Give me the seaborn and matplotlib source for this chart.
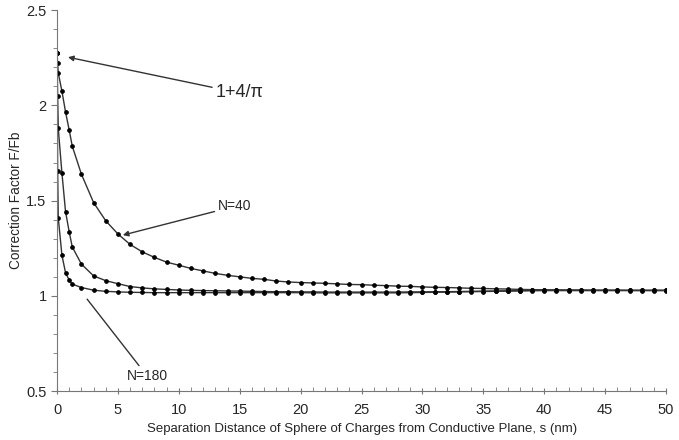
import numpy as np
import pandas as pd
import matplotlib
matplotlib.use("Agg")
import matplotlib.pyplot as plt
from matplotlib.ticker import MultipleLocator
import seaborn as sns

# -----------------------------
# Data
# -----------------------------
s_nm = [0, 0.05, 0.1, 0.4, 0.7, 1.0, 1.25,
        2, 3, 4, 5, 6, 7, 8, 9, 10, 11, 12, 13, 14, 15, 16, 17, 18, 19, 20,
        21, 22, 23, 24, 25, 26, 27, 28, 29, 30, 31, 32, 33, 34, 35, 36, 37, 38,
        39, 40, 41, 42, 43, 44, 45, 46, 47, 48, 49, 50]

f_n40 = [2.273, 2.22, 2.17, 2.075, 1.965, 1.87, 1.786,
         1.639, 1.49, 1.394, 1.325, 1.27, 1.231, 1.202, 1.177, 1.161, 1.144,
         1.131, 1.118, 1.108, 1.100, 1.092, 1.087, 1.078, 1.073, 1.070,
         1.068, 1.066, 1.063, 1.060, 1.059, 1.056, 1.054, 1.051, 1.050, 1.047,
         1.045, 1.044, 1.042, 1.040, 1.039, 1.037, 1.036, 1.034,
         1.033, 1.032, 1.032, 1.031, 1.031, 1.030, 1.030, 1.030, 1.029, 1.029, 1.029, 1.029]

f_mid = [2.273, 2.05, 1.88, 1.646, 1.441, 1.336, 1.257,
         1.167, 1.105, 1.080, 1.064, 1.049, 1.042, 1.037, 1.034, 1.031, 1.029,
         1.028, 1.027, 1.026, 1.025, 1.024, 1.023, 1.022, 1.022, 1.021,
         1.021, 1.020, 1.020, 1.020, 1.020, 1.020, 1.020, 1.020, 1.021, 1.021,
         1.022, 1.022, 1.023, 1.024, 1.025, 1.026, 1.027, 1.028,
         1.029, 1.029, 1.029, 1.029, 1.029, 1.029, 1.029, 1.029, 1.029, 1.029, 1.029, 1.029]

f_n180 = [2.273, 1.656, 1.41, 1.214, 1.121, 1.083, 1.062,
          1.044, 1.030, 1.024, 1.021, 1.019, 1.018, 1.017, 1.017, 1.017, 1.017,
          1.017, 1.017, 1.017, 1.017, 1.017, 1.017, 1.017, 1.017, 1.017,
          1.016, 1.016, 1.016, 1.016, 1.016, 1.016, 1.016, 1.016, 1.017, 1.018,
          1.019, 1.020, 1.021, 1.022, 1.023, 1.024, 1.025, 1.026,
          1.027, 1.028, 1.028, 1.028, 1.028, 1.028, 1.028, 1.028, 1.028, 1.028, 1.028, 1.028]

sns.set_style("white")
plt.rcParams['font.family'] = ['Liberation Sans', 'DejaVu Sans']

fig = plt.figure(figsize=(6.79, 4.40), dpi=100)
ax = fig.add_axes([0.084, 0.111, 0.897, 0.866])

for vals in (f_n40, f_mid, f_n180):
    sns.lineplot(x=s_nm, y=vals, ax=ax, color='#333333', linewidth=1.0,
                 marker='o', markersize=2.6, markerfacecolor='black',
                 markeredgecolor='black', sort=False)

ax.set_xlim(0, 50)
ax.set_ylim(0.5, 2.5)
ax.xaxis.set_major_locator(MultipleLocator(5))
ax.xaxis.set_minor_locator(MultipleLocator(1))
ax.yaxis.set_major_locator(MultipleLocator(0.5))
ax.yaxis.set_minor_locator(MultipleLocator(0.1))
ax.yaxis.set_major_formatter(plt.FuncFormatter(lambda v, p: f"{v:g}"))

for side in ('top', 'right'):
    ax.spines[side].set_visible(False)
for side in ('left', 'bottom'):
    ax.spines[side].set_color('#777777')
    ax.spines[side].set_linewidth(0.8)

ax.tick_params(axis='x', which='major', direction='inout', length=5, color='#777777',
               labelsize=10.5, pad=6)
ax.tick_params(axis='x', which='minor', direction='in', length=3, color='#777777')
ax.tick_params(axis='y', which='major', direction='out', length=4, color='#777777',
               labelsize=10.5)
ax.tick_params(axis='y', which='minor', direction='out', length=3, color='#777777')
ax.tick_params(bottom=True, left=True, which='both')

ax.set_xlabel("Separation Distance of Sphere of Charges from Conductive Plane, s (nm)",
              fontsize=9.5, labelpad=4)
ax.set_ylabel("Correction Factor F/Fb", fontsize=9.8, labelpad=2)

arrow = dict(arrowstyle='-|>', color='#333333', lw=1.0, shrinkA=0, shrinkB=0,
             mutation_scale=8)
ax.annotate("1+4/\u03c0", xy=(0.9, 2.253), xytext=(13.0, 2.065), fontsize=13,
            va='center', ha='left', arrowprops=arrow)
ax.annotate("N=40", xy=(5.4, 1.319), xytext=(13.2, 1.47), fontsize=10,
            va='center', ha='left', arrowprops=arrow)
ax.annotate("N=180", xy=(2.47, 0.983), xytext=(5.7, 0.58), fontsize=10,
            va='center', ha='left',
            arrowprops=dict(arrowstyle='-', color='#333333', lw=1.0,
                            shrinkA=0, shrinkB=0))

fig.savefig("out.png", dpi=100)
